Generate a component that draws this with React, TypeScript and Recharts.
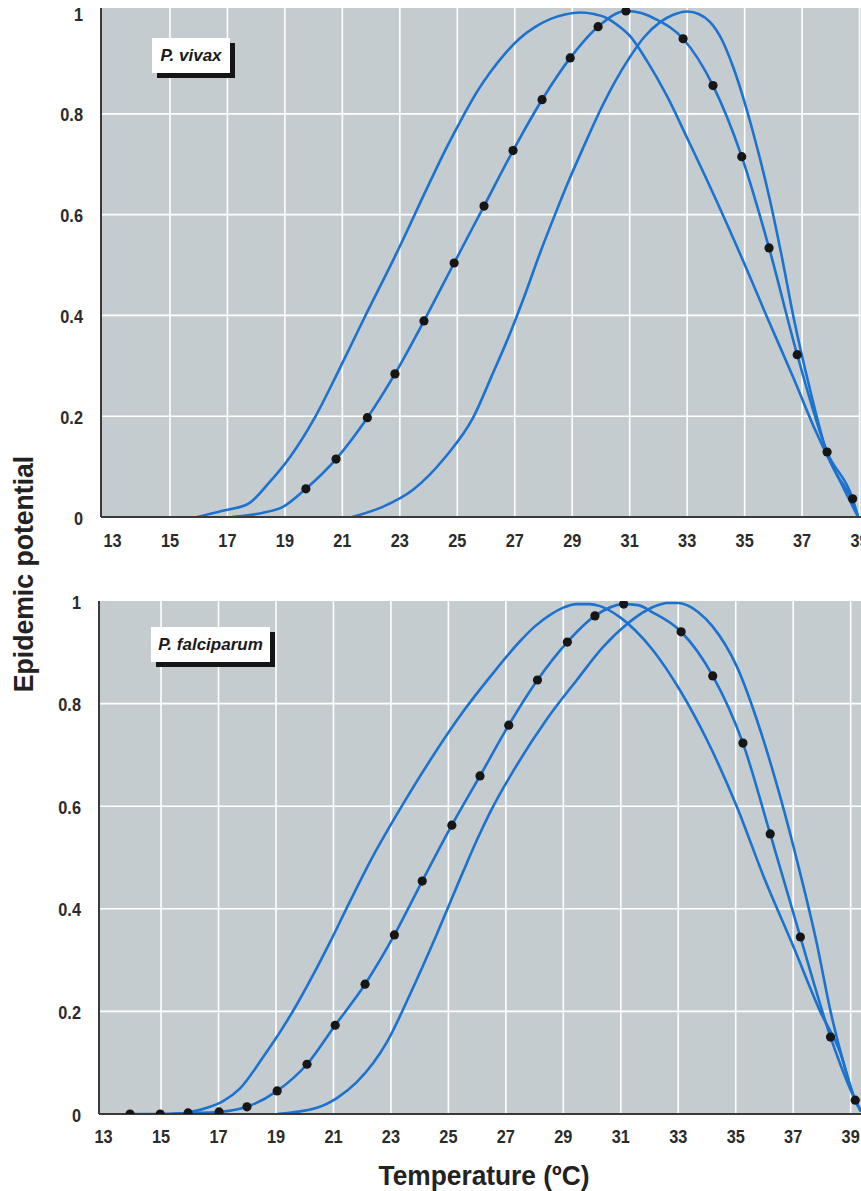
import React from "react";
import { ComposedChart, Line, Scatter, XAxis, YAxis, CartesianGrid } from "recharts";

// axes
const xTicks = [13, 15, 17, 19, 21, 23, 25, 27, 29, 31, 33, 35, 37, 39];
const yTicks = [0, 0.2, 0.4, 0.6, 0.8, 1];
const gridX = [15, 17, 19, 21, 23, 25, 27, 29, 31, 33, 35, 37, 39];
const gridY = [0.2, 0.4, 0.6, 0.8];

// P. vivax
const vivaxEarlyT = [15.94, 16.8, 17.72, 18.45, 19.18, 20.04, 20.85, 21.72, 22.89, 24.05, 24.6, 25.2, 25.7, 26.14, 26.7, 27.18, 27.7, 28.23, 28.75, 29.27, 29.75, 30.2, 30.6, 31.0, 31.6, 32.3, 33.0, 34.04, 34.95, 35.77, 36.7, 37.5, 38.2, 38.78, 38.95];
const vivaxEarlyV = [0, 0.012, 0.026, 0.068, 0.119, 0.197, 0.288, 0.39, 0.524, 0.665, 0.73, 0.795, 0.845, 0.882, 0.922, 0.95, 0.972, 0.988, 0.997, 1.001, 0.998, 0.99, 0.975, 0.955, 0.905, 0.835, 0.752, 0.625, 0.508, 0.398, 0.276, 0.167, 0.085, 0.028, 0];

const vivaxMidT = [17.16, 18.2, 18.93, 19.73, 20.78, 21.87, 22.83, 23.84, 24.89, 25.93, 26.94, 27.95, 28.93, 29.9, 30.87, 31.4, 31.9, 32.86, 33.9, 34.9, 35.85, 36.83, 37.87, 38.76, 38.95];
const vivaxMidV = [0, 0.008, 0.02, 0.056, 0.115, 0.197, 0.284, 0.389, 0.504, 0.617, 0.727, 0.828, 0.911, 0.973, 1.004, 1.0, 0.988, 0.949, 0.856, 0.715, 0.534, 0.322, 0.129, 0.036, 0];

const vivaxDotT = [19.73, 20.78, 21.87, 22.83, 23.84, 24.89, 25.93, 26.94, 27.95, 28.93, 29.9, 30.87, 32.86, 33.9, 34.9, 35.85, 36.83, 37.87, 38.76];
const vivaxDotV = [0.056, 0.115, 0.197, 0.284, 0.389, 0.504, 0.617, 0.727, 0.828, 0.911, 0.973, 1.004, 0.949, 0.856, 0.715, 0.534, 0.322, 0.129, 0.036];

const vivaxLateT = [21.34, 22.4, 23.46, 24.6, 25.55, 26.2, 26.84, 27.38, 27.88, 28.4, 28.9, 29.4, 30.0, 30.5, 31.0, 31.5, 32.06, 32.5, 33.0, 33.4, 33.8, 34.2, 34.6, 35.3, 35.88, 36.3, 36.7, 37.28, 37.85, 38.36, 38.95];
const vivaxLateV = [0, 0.02, 0.054, 0.12, 0.197, 0.28, 0.365, 0.445, 0.524, 0.6, 0.67, 0.735, 0.81, 0.865, 0.912, 0.952, 0.982, 0.996, 1.003, 0.998, 0.982, 0.948, 0.893, 0.762, 0.629, 0.515, 0.397, 0.252, 0.13, 0.067, 0];

// P. falciparum
const falcEarlyT = [15.66, 16.6, 17.16, 17.75, 18.6, 19.2, 19.72, 20.3, 20.88, 21.58, 22.38, 23.42, 24.37, 25.52, 26.45, 27.5, 28.0, 28.54, 29.0, 29.47, 29.9, 30.28, 30.98, 31.5, 32.12, 33.06, 34.0, 35.04, 35.97, 37.01, 37.94, 38.63, 39.16, 39.36];
const falcEarlyV = [0, 0.012, 0.025, 0.05, 0.115, 0.165, 0.213, 0.272, 0.335, 0.415, 0.503, 0.604, 0.69, 0.785, 0.852, 0.922, 0.95, 0.973, 0.987, 0.994, 0.994, 0.99, 0.968, 0.943, 0.904, 0.826, 0.729, 0.599, 0.463, 0.326, 0.2, 0.121, 0.027, 0.005];

const falcMidT = [13.85, 13.92, 14.97, 15.94, 17.02, 17.99, 19.04, 20.08, 21.06, 22.1, 23.12, 24.09, 25.12, 26.1, 27.1, 28.1, 29.14, 30.1, 31.1, 31.6, 32.1, 33.1, 34.2, 35.25, 36.2, 37.25, 38.3, 39.16, 39.36];
const falcMidV = [0, 0, 0, 0.002, 0.004, 0.014, 0.045, 0.097, 0.173, 0.253, 0.349, 0.454, 0.563, 0.659, 0.758, 0.846, 0.92, 0.971, 0.994, 0.992, 0.978, 0.94, 0.854, 0.723, 0.546, 0.345, 0.15, 0.027, 0.005];

const falcDotT = [13.92, 14.97, 15.94, 17.02, 17.99, 19.04, 20.08, 21.06, 22.1, 23.12, 24.09, 25.12, 26.1, 27.1, 28.1, 29.14, 30.1, 31.1, 33.1, 34.2, 35.25, 36.2, 37.25, 38.3, 39.16];
const falcDotV = [0, 0, 0.002, 0.004, 0.014, 0.045, 0.097, 0.173, 0.253, 0.349, 0.454, 0.563, 0.659, 0.758, 0.846, 0.92, 0.971, 0.994, 0.94, 0.854, 0.723, 0.546, 0.345, 0.15, 0.027];

const falcLateT = [19.04, 20.42, 21.12, 21.81, 22.86, 23.67, 24.6, 25.51, 26.0, 26.46, 27.38, 28.43, 29.47, 30.38, 31.26, 31.9, 32.3, 32.6, 33.0, 33.3, 33.7, 34.2, 35.04, 35.85, 36.55, 37.24, 37.82, 38.3, 38.75, 39.16, 39.36];
const falcLateV = [0, 0.012, 0.031, 0.062, 0.14, 0.234, 0.351, 0.472, 0.535, 0.589, 0.68, 0.77, 0.846, 0.91, 0.957, 0.982, 0.992, 0.996, 0.996, 0.992, 0.978, 0.95, 0.872, 0.749, 0.618, 0.47, 0.333, 0.2, 0.1, 0.027, 0.005];

const zip = (t: number[], v: number[]) => t.map((x, i) => ({ t: x, v: v[i] }));

const FONT = "'Liberation Sans', Arial, Helvetica, sans-serif";
const BLUE = "#1c72cf";
const SQUEEZE = 0.86;

const XTick = (p: any) => (
  <text
    transform={`translate(${p.x},${p.y}) scale(${SQUEEZE},1)`}
    textAnchor="middle"
    dy="0.71em"
    fontFamily={FONT}
    fontWeight={700}
    fontSize={19}
    fill="#2b2b2b"
  >
    {p.payload.value}
  </text>
);

const YTick = (p: any) => (
  <text
    transform={`translate(${p.x},${p.y}) scale(${SQUEEZE},1)`}
    textAnchor="end"
    dy="0.4em"
    fontFamily={FONT}
    fontWeight={700}
    fontSize={19}
    fill="#2b2b2b"
  >
    {p.payload.value}
  </text>
);

const Dot = (p: any) => <circle cx={p.cx} cy={p.cy} r={4.6} fill="#161616" />;

function Panel(props: {
  top: number;
  height: number;
  marginTop: number;
  yAxisWidth: number;
  xDomain: [number, number];
  yMax: number;
  xAxisHeight: number;
  tickGap: number;
  early: { t: number; v: number }[];
  mid: { t: number; v: number }[];
  dots: { t: number; v: number }[];
  late: { t: number; v: number }[];
}) {
  return (
    <div style={{ position: "absolute", left: 0, top: props.top }}>
      <ComposedChart
        width={861}
        height={props.height}
        margin={{ top: props.marginTop, right: 0, bottom: 0, left: 0 }}
      >
        <CartesianGrid
          fill="#c4ccd0"
          fillOpacity={1}
          stroke="#ffffff"
          strokeWidth={1.6}
          verticalValues={gridX}
          horizontalValues={gridY}
        />
        <XAxis
          type="number"
          dataKey="t"
          domain={props.xDomain}
          allowDataOverflow
          ticks={xTicks}
          interval={0}
          height={props.xAxisHeight}
          tickLine={false}
          tickSize={0}
          tickMargin={props.tickGap}
          axisLine={{ stroke: "#3a3a3a", strokeWidth: 2 }}
          tick={<XTick />}
        />
        <YAxis
          type="number"
          dataKey="v"
          domain={[0, props.yMax]}
          allowDataOverflow
          ticks={yTicks}
          interval={0}
          width={props.yAxisWidth}
          tickLine={false}
          tickSize={0}
          tickMargin={18}
          axisLine={{ stroke: "#3a3a3a", strokeWidth: 2 }}
          tick={<YTick />}
        />
        <Line data={props.early} dataKey="v" type="monotone" stroke={BLUE} strokeWidth={2.6} dot={false} isAnimationActive={false} />
        <Line data={props.late} dataKey="v" type="monotone" stroke={BLUE} strokeWidth={2.6} dot={false} isAnimationActive={false} />
        <Line data={props.mid} dataKey="v" type="monotone" stroke={BLUE} strokeWidth={2.6} dot={false} isAnimationActive={false} />
        <Scatter data={props.dots} dataKey="v" shape={Dot} isAnimationActive={false} />
      </ComposedChart>
    </div>
  );
}

const tagStyle: React.CSSProperties = {
  position: "absolute",
  height: 35,
  background: "#fff",
  boxShadow: "5px 5px 0 #151515",
  fontFamily: FONT,
  fontWeight: 700,
  fontStyle: "italic",
  fontSize: 17,
  color: "#1a1a1a",
  display: "flex",
  alignItems: "center",
  justifyContent: "center",
};

const titleStyle: React.CSSProperties = {
  position: "absolute",
  whiteSpace: "nowrap",
  fontFamily: FONT,
  fontWeight: 700,
  fontSize: 28,
  color: "#222",
};

export default function App() {
  return (
    <div style={{ position: "absolute", left: 0, top: 0, width: 861, height: 1191, background: "#fff", overflow: "hidden" }}>
      <Panel
        top={0}
        height={560}
        marginTop={8}
        yAxisWidth={101}
        xDomain={[12.6, 39.05]}
        yMax={1.01}
        xAxisHeight={43}
        tickGap={16}
        early={zip(vivaxEarlyT, vivaxEarlyV)}
        mid={zip(vivaxMidT, vivaxMidV)}
        dots={zip(vivaxDotT, vivaxDotV)}
        late={zip(vivaxLateT, vivaxLateV)}
      />
      <Panel
        top={583}
        height={571}
        marginTop={18}
        yAxisWidth={99}
        xDomain={[12.84, 39.36]}
        yMax={1}
        xAxisHeight={40}
        tickGap={15}
        early={zip(falcEarlyT, falcEarlyV)}
        mid={zip(falcMidT, falcMidV)}
        dots={zip(falcDotT, falcDotV)}
        late={zip(falcLateT, falcLateV)}
      />
      <div style={{ ...tagStyle, left: 152, top: 38, width: 78 }}>P. vivax</div>
      <div style={{ ...tagStyle, left: 151, top: 627, width: 119 }}>P. falciparum</div>
      <div style={{ ...titleStyle, left: 24, top: 574, transform: "translate(-50%, -50%) rotate(-90deg) scale(0.95, 1)" }}>
        Epidemic potential
      </div>
      <div style={{ ...titleStyle, left: 484, top: 1176, transform: "translate(-50%, -50%) scale(0.94, 1)" }}>
        Temperature (ºC)
      </div>
    </div>
  );
}
